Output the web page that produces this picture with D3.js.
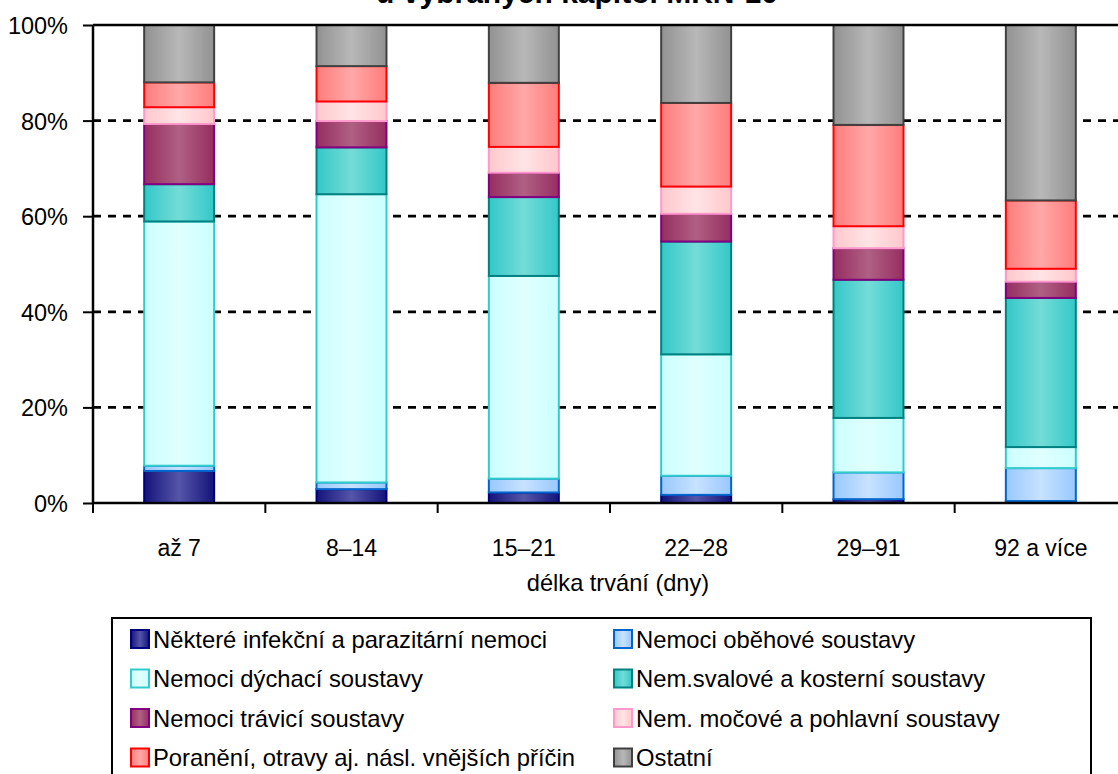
<!DOCTYPE html>
<html>
<head>
<meta charset="utf-8">
<script src="https://cdn.jsdelivr.net/npm/d3@7"></script>
<style>
  body { margin: 0; background: #fff; }
  svg text { font-family: "Liberation Sans", Arial, sans-serif; fill: #000; }
</style>
</head>
<body>
<svg id="chart" width="1118" height="774"></svg>
<script>
// categories (duration of sick leave in days)
var categories = ["až 7", "8–14", "15–21", "22–28", "29–91", "92 a více"];

// series names, bottom to top
var seriesNames = [
  "Některé infekční a parazitární nemoci",
  "Nemoci oběhové soustavy",
  "Nemoci dýchací soustavy",
  "Nem.svalové a kosterní soustavy",
  "Nemoci trávicí soustavy",
  "Nem. močové a pohlavní soustavy",
  "Poranění, otravy aj. násl. vnějších příčin",
  "Ostatní"
];

// shares in % per category
var infekcni  = [6.7, 2.9, 2.2, 1.7, 0.8, 0.4];
var obehove   = [1.1, 1.4, 2.9, 4.0, 5.6, 6.9];
var dychaci   = [51.1, 60.3, 42.4, 25.4, 11.4, 4.4];
var svalove   = [7.8, 9.8, 16.5, 23.6, 28.9, 31.2];
var travici   = [12.6, 5.5, 5.1, 5.8, 6.6, 3.4];
var mocove    = [3.5, 4.1, 5.4, 5.7, 4.6, 2.7];
var poraneni  = [5.2, 7.4, 13.4, 17.5, 21.2, 14.3];
var ostatni   = [12.0, 8.6, 12.1, 16.3, 20.9, 36.7];

var yTicks = [0, 20, 40, 60, 80, 100];

// colours: [edge, centre, stroke]
var colors = [
  ["#14147a", "#5555aa", "#000080"],
  ["#99c8ff", "#c8e2ff", "#0066cc"],
  ["#ccffff", "#e0ffff", "#33cccc"],
  ["#33c8c8", "#74dcd8", "#008080"],
  ["#962e60", "#b06084", "#800080"],
  ["#ffc8cc", "#ffe4e6", "#ff99cc"],
  ["#ff7c7c", "#ffa8a8", "#ff0000"],
  ["#929292", "#b8b8b8", "#404040"]
];

var allSeries = [infekcni, obehove, dychaci, svalove, travici, mocove, poraneni, ostatni];

var table = categories.map(function(c, i) {
  var row = { cat: c };
  seriesNames.forEach(function(s, j) { row[s] = allSeries[j][i]; });
  return row;
});

var svg = d3.select("#chart");
var plotLeft = 93, plotRight = 1127, plotTop = 25, plotBottom = 503;

var x = d3.scaleBand().domain(categories).range([plotLeft, plotRight])
  .paddingInner(0.594).paddingOuter(0.297);
var step = x.step();
var y = d3.scaleLinear().domain([0, 100]).range([plotBottom, plotTop]);

var defs = svg.append("defs");
colors.forEach(function(c, i) {
  var g = defs.append("linearGradient").attr("id", "g" + i)
    .attr("x1", "0").attr("x2", "1").attr("y1", "0").attr("y2", "0");
  g.append("stop").attr("offset", "0").attr("stop-color", c[0]);
  g.append("stop").attr("offset", "0.5").attr("stop-color", c[1]);
  g.append("stop").attr("offset", "1").attr("stop-color", c[0]);
});

// title (only its lower line is visible)
svg.append("text")
  .attr("x", 577).attr("y", 3)
  .attr("text-anchor", "middle")
  .style("font-size", "30px").style("font-weight", "bold")
  .text("u vybraných kapitol MKN-10");

// dashed gridlines
svg.append("g").selectAll("line")
  .data(yTicks.filter(function(d) { return d > 0 && d < 100; }))
  .enter().append("line")
  .attr("x1", plotLeft).attr("x2", plotRight)
  .attr("y1", function(d) { return y(d); })
  .attr("y2", function(d) { return y(d); })
  .attr("stroke", "#000").attr("stroke-width", 2.8)
  .attr("stroke-dasharray", "8,7");

// stacked bars
var stack = d3.stack().keys(seriesNames)(table);
var layers = svg.append("g").selectAll("g")
  .data(stack).enter().append("g")
  .attr("fill", function(d, i) { return "url(#g" + i + ")"; })
  .attr("stroke", function(d, i) { return colors[i][2]; });

layers.selectAll("rect")
  .data(function(d) { return d; })
  .enter().append("rect")
  .attr("x", function(d) { return x(d.data.cat); })
  .attr("width", x.bandwidth())
  .attr("y", function(d) { return y(d[1]); })
  .attr("height", function(d) { return y(d[0]) - y(d[1]); })
  .attr("stroke-width", 2);

// top frame
svg.append("line")
  .attr("x1", plotLeft).attr("x2", plotRight).attr("y1", plotTop).attr("y2", plotTop)
  .attr("stroke", "#000").attr("stroke-width", 2.5);

// y axis
var yAxis = svg.append("g").attr("transform", "translate(" + plotLeft + ",0)")
  .call(d3.axisLeft(y).tickValues(yTicks).tickSize(10)
    .tickFormat(function(d) { return d + "%"; }));
yAxis.select(".domain").attr("stroke-width", 2.5)
  .attr("d", "M0," + plotTop + "V" + plotBottom);
yAxis.selectAll(".tick line").attr("stroke-width", 2);
yAxis.selectAll("text").attr("x", -25).attr("dy", "0.36em")
  .style("font-size", "23.5px").style("font-family", "Liberation Sans, Arial, sans-serif");

// x axis
var xAxis = svg.append("g").attr("transform", "translate(0," + plotBottom + ")");
xAxis.append("line").attr("x1", plotLeft).attr("x2", plotRight)
  .attr("stroke", "#000").attr("stroke-width", 2.5);
xAxis.selectAll(".tk").data(d3.range(categories.length + 1)).enter()
  .append("line")
  .attr("x1", function(i) { return plotLeft + i * step; })
  .attr("x2", function(i) { return plotLeft + i * step; })
  .attr("y1", 0).attr("y2", 10)
  .attr("stroke", "#000").attr("stroke-width", 2);
xAxis.selectAll(".lbl").data(categories).enter()
  .append("text")
  .attr("x", function(d) { return x(d) + x.bandwidth() / 2; })
  .attr("y", 53)
  .attr("text-anchor", "middle")
  .style("font-size", "23px")
  .text(function(d) { return d; });

svg.append("text")
  .attr("x", 618).attr("y", 591)
  .attr("text-anchor", "middle")
  .style("font-size", "23.6px")
  .text("délka trvání (dny)");

// legend
var legend = svg.append("g");
legend.append("rect")
  .attr("x", 112).attr("y", 618).attr("width", 979).attr("height", 170)
  .attr("fill", "#fff").attr("stroke", "#000").attr("stroke-width", 2);

var items = legend.selectAll(".item").data(seriesNames).enter()
  .append("g")
  .attr("transform", function(d, i) {
    var col = i % 2, row = Math.floor(i / 2);
    return "translate(" + (col === 0 ? 131 : 614) + "," + (639 + row * 39.5) + ")";
  });
items.append("rect")
  .attr("x", 0).attr("y", -9).attr("width", 18).attr("height", 18)
  .attr("fill", function(d, i) { return "url(#g" + i + ")"; })
  .attr("stroke", function(d, i) { return colors[i][2]; })
  .attr("stroke-width", 2);
items.append("text")
  .attr("x", 22).attr("dy", "0.36em")
  .style("font-size", "23.8px")
  .text(function(d) { return d; });
</script>
</body>
</html>
